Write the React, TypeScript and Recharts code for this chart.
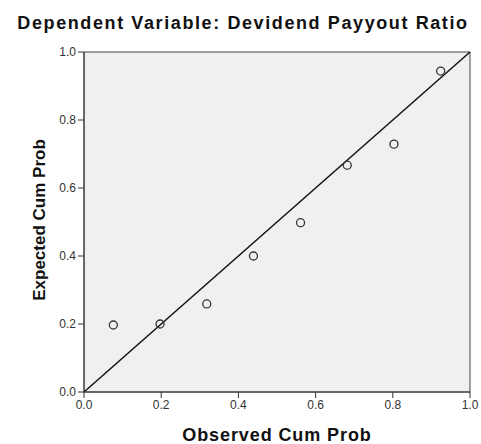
import { CartesianGrid, ReferenceArea, ReferenceLine, Scatter, ScatterChart, XAxis, YAxis } from "recharts";

const observed = [0.076, 0.197, 0.318, 0.439, 0.561, 0.682, 0.803, 0.924];
const expected = [0.197, 0.2, 0.259, 0.4, 0.498, 0.667, 0.729, 0.944];
const ticks = [0, 0.2, 0.4, 0.6, 0.8, 1.0];

const points = observed.map((x, i) => ({ x, y: expected[i] }));

const Ring = (props: any) => {
  const { cx, cy } = props;
  return <circle cx={cx} cy={cy} r={4} fill="none" stroke="#333" strokeWidth={1.3} />;
};

const font = "Arial, 'Liberation Sans', sans-serif";
const tickStyle = { fontSize: 12, fill: "#333", fontFamily: font };

export default function App() {
  return (
    <div style={{ position: "absolute", left: 0, top: 0, width: 481, height: 444, background: "#fff" }}>
      <div
        style={{
          position: "absolute",
          left: 243,
          top: 23,
          transform: "translate(-50%, -50%)",
          whiteSpace: "nowrap",
          fontFamily: font,
          fontWeight: "bold",
          fontSize: 18,
          letterSpacing: 1.6,
          color: "#111",
        }}
      >
        Dependent Variable: Devidend Payyout Ratio
      </div>
      <div
        style={{
          position: "absolute",
          left: 40,
          top: 220,
          transform: "translate(-50%, -50%) rotate(-90deg)",
          whiteSpace: "nowrap",
          fontFamily: font,
          fontWeight: "bold",
          fontSize: 17,
          color: "#111",
        }}
      >
        Expected Cum Prob
      </div>
      <div
        style={{
          position: "absolute",
          left: 277,
          top: 435,
          transform: "translate(-50%, -50%)",
          whiteSpace: "nowrap",
          fontFamily: font,
          fontWeight: "bold",
          fontSize: 18,
          letterSpacing: 0.9,
          color: "#111",
        }}
      >
        Observed Cum Prob
      </div>
      <ScatterChart
        width={481}
        height={444}
        margin={{ top: 52, right: 11, bottom: 0, left: 34 }}
        style={{ position: "absolute", left: 0, top: 0 }}
      >
        <CartesianGrid horizontal={false} vertical={false} fill="#f0f0f0" />
        <XAxis
          type="number"
          dataKey="x"
          domain={[0, 1]}
          ticks={ticks}
          tickFormatter={(v: number) => v.toFixed(1)}
          height={52}
          tick={tickStyle}
          tickSize={6}
          stroke="#333"
          allowDataOverflow
        />
        <YAxis
          type="number"
          dataKey="y"
          domain={[0, 1]}
          ticks={ticks}
          tickFormatter={(v: number) => v.toFixed(1)}
          width={50}
          tick={tickStyle}
          tickSize={6}
          stroke="#333"
          allowDataOverflow
        />
        <ReferenceArea x1={0} x2={1} y1={0} y2={1} fill="none" stroke="#444" strokeWidth={1} ifOverflow="visible" />
        <ReferenceLine
          segment={[
            { x: 0, y: 0 },
            { x: 1, y: 1 },
          ]}
          stroke="#111"
          strokeWidth={1.5}
        />
        <Scatter data={points} shape={<Ring />} isAnimationActive={false} />
      </ScatterChart>
    </div>
  );
}
